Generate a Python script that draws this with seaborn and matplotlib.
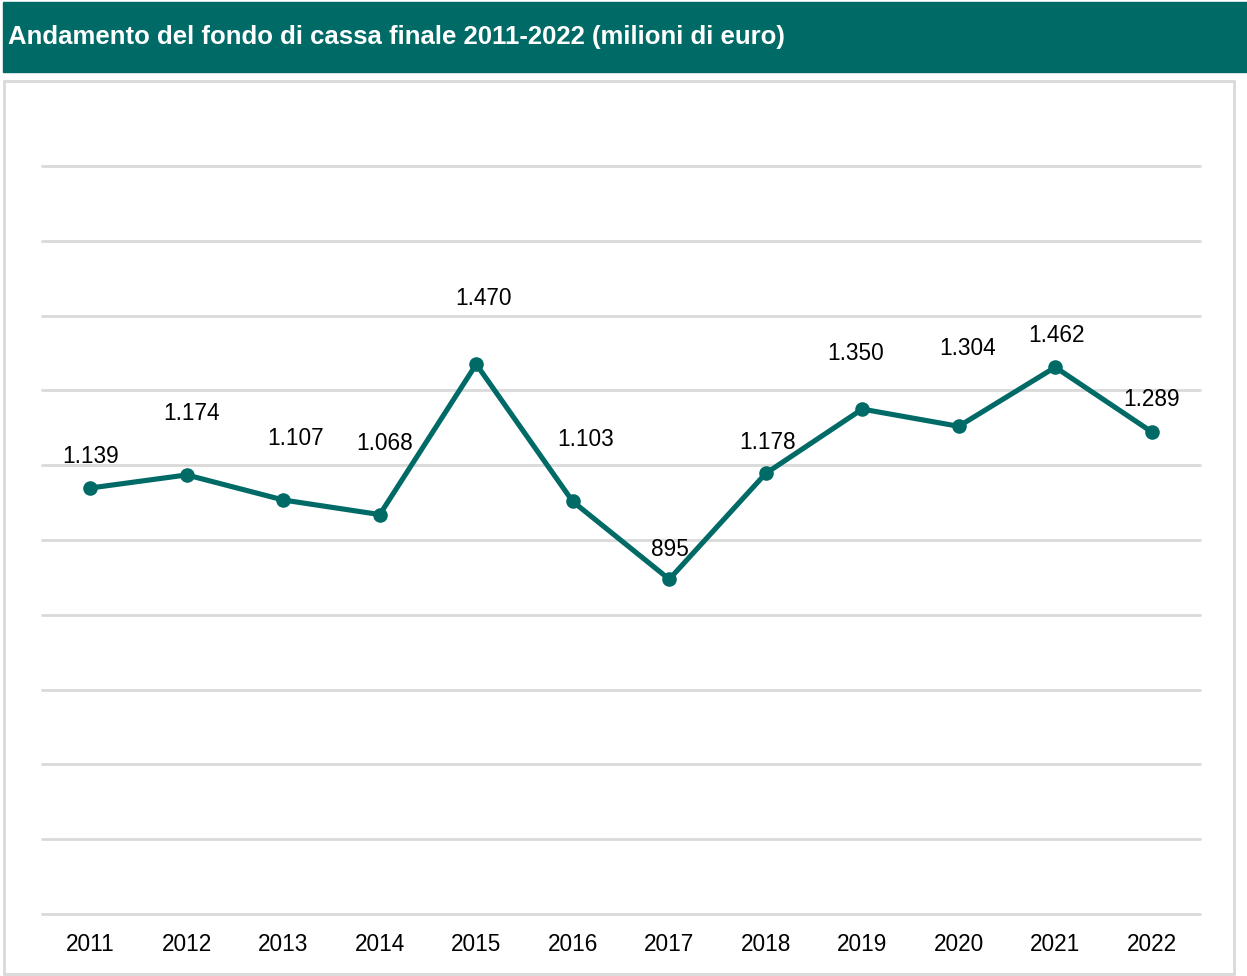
import matplotlib
matplotlib.use('Agg')
import matplotlib.pyplot as plt
import seaborn as sns
import pandas as pd
from matplotlib.patches import Rectangle

# Data
years = ['2011', '2012', '2013', '2014', '2015', '2016',
         '2017', '2018', '2019', '2020', '2021', '2022']
fondo_cassa = [1139, 1174, 1107, 1068, 1470, 1103, 895, 1178, 1350, 1304, 1462, 1289]
value_labels = ['1.139', '1.174', '1.107', '1.068', '1.470', '1.103',
                '895', '1.178', '1.350', '1.304', '1.462', '1.289']

# label offsets in pixels (dx, dy) as placed in the original
label_dx = [0, 5, 12, 5, 7, 13, 1, 2, -7, 9, 1, 0]
label_dy = [32, 61, 61, 71, 66, 62, 30, 31, 56, 78, 32, 32]

TEAL = '#006A67'
GRID = '#D9D9D9'

sns.set_theme(style='white')
plt.rcParams['font.family'] = ['Liberation Sans', 'DejaVu Sans']

df = pd.DataFrame({'anno': years, 'valore': fondo_cassa})

fig = plt.figure(figsize=(12.47, 9.76), dpi=100)

# header bar and chart border (behind the axes)
fig.patches.append(Rectangle((3 / 1247, 1 - 72 / 976), 1, 70 / 976,
                             transform=fig.transFigure, color=TEAL, zorder=-2))
fig.patches.append(Rectangle((4 / 1247, 2 / 976), 1230 / 1247, 893 / 976,
                             transform=fig.transFigure, facecolor='white',
                             edgecolor=GRID, linewidth=2, zorder=-2))
fig.text(8 / 1247, 1 - 37 / 976, 'Andamento del fondo di cassa finale 2011-2022 (milioni di euro)',
         color='white', fontsize=18.5, fontweight='bold', va='center', ha='left')

ax = fig.add_axes([42 / 1247, 1 - 914 / 976, 1158 / 1247, 748 / 976])
ax.set_facecolor('none')
ax.set_zorder(1)

sns.lineplot(data=df, x='anno', y='valore', ax=ax, color=TEAL, linewidth=3.7,
             marker='o', markersize=10.5, markeredgewidth=0, sort=False, zorder=3)

for i, (v, lab) in enumerate(zip(fondo_cassa, value_labels)):
    ax.annotate(lab, (i, v), xytext=(label_dx[i], label_dy[i]), textcoords='offset pixels',
                ha='center', va='center', fontsize=16.3, color='black', zorder=4)

ax.set_ylim(0, 2000)
ax.set_yticks(range(0, 2001, 200))
ax.set_yticklabels([])
ax.set_xlim(-0.5, 11.5)
ax.yaxis.grid(True, color=GRID, linewidth=2)
for gl in ax.get_ygridlines():
    gl.set_clip_on(False)
ax.set_axisbelow(True)
ax.tick_params(axis='x', labelsize=16.3, colors='black', length=0, pad=14)
ax.tick_params(axis='y', length=0)
ax.set_xlabel('')
ax.set_ylabel('')
for s in ax.spines.values():
    s.set_visible(False)

plt.savefig('out.png', dpi=100)
